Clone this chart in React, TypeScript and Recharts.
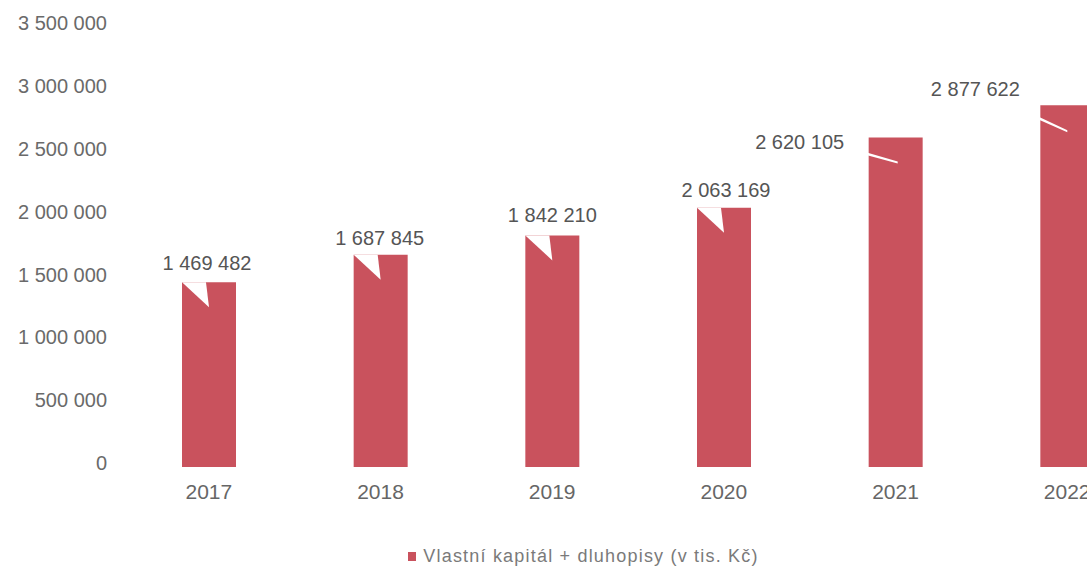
import React from 'react';
import { BarChart, Bar, XAxis, YAxis, Legend, LabelList } from 'recharts';

const years = ['2017', '2018', '2019', '2020', '2021', '2022'];
const capitalBonds = [1469482, 1687845, 1842210, 2063169, 2620105, 2877622];
const yTicks = [0, 500000, 1000000, 1500000, 2000000, 2500000, 3000000, 3500000];
const seriesName = 'Vlastní kapitál + dluhopisy (v tis. Kč)';

const data = years.map((year, i) => ({ year, value: capitalBonds[i] }));

const BAR_COLOR = '#c9525d';
const FONT = '"Liberation Sans", Arial, sans-serif';

const fmt = (v: number) => String(v).replace(/\B(?=(\d{3})+(?!\d))/g, ' ');

// text centre relative to bar's top-left corner; first four sit above the bar,
// the last two to the left with a thin pointer
const labelOffsets = [
  [25, -19],
  [26, -17],
  [27, -20],
  [29, -18],
  [-69, 4],
  [-65, -16],
];
const pointers: number[][][] = [
  [[0, 0], [24, 0], [27, 25]],
  [[0, 0], [24, 0], [27, 25]],
  [[0, 0], [24, 0], [27, 25]],
  [[0, 0], [24, 0], [27, 25]],
  [[-19, 10], [-19, 13], [29, 26], [29, 24]],
  [[-7, 9], [-7, 12], [27, 27], [27, 25]],
];

function CalloutLabel(props: any) {
  const vb = props.viewBox || {};
  const x = props.x ?? vb.x;
  const y = props.y ?? vb.y;
  const index = props.index ?? 0;
  const [dx, dy] = labelOffsets[index] || [25, -18];
  const cx = x + dx;
  const cy = y + dy;
  const pts = (pointers[index] || [])
    .map(([px, py]) => `${x + px},${y + py}`)
    .join(' ');
  return (
    <g>
      <rect x={cx - 50} y={cy - 14} width={100} height={28} fill="#fff" />
      <polygon points={pts} fill="#fff" />
      <text
        x={cx}
        y={cy}
        textAnchor="middle"
        dominantBaseline="central"
        fontSize={20}
        fontFamily={FONT}
        fill="#555"
      >
        {fmt(props.value)}
      </text>
    </g>
  );
}

function LegendContent() {
  return (
    <div
      style={{
        display: 'flex',
        justifyContent: 'center',
        alignItems: 'center',
        fontFamily: FONT,
        fontSize: 18,
        letterSpacing: 1.2,
        color: '#7a7a7a',
        paddingLeft: 6,
        marginTop: -4,
      }}
    >
      <span
        style={{
          display: 'inline-block',
          width: 8,
          height: 9,
          background: BAR_COLOR,
          marginRight: 7,
        }}
      />
      <span>{seriesName}</span>
    </div>
  );
}

export default function App() {
  return (
    <div
      style={{
        width: 1087,
        height: 569,
        boxSizing: 'border-box',
        padding: '8px 0 0 8px',
        overflow: 'hidden',
        background: '#fff',
      }}
    >
      <style>{'body{margin:0;overflow:hidden}'}</style>
      <BarChart
        width={1152}
        height={561}
        data={data}
        margin={{ top: 19, right: 7, left: 0, bottom: 2 }}
      >
        <XAxis
          dataKey="year"
          axisLine={false}
          tickLine={false}
          tickMargin={11}
          height={83}
          tick={{ fill: '#666', fontSize: 21, fontFamily: FONT }}
        />
        <YAxis
          width={115}
          domain={[0, 3500000]}
          ticks={yTicks}
          tickFormatter={fmt}
          axisLine={false}
          tickLine={false}
          tickMargin={10}
          tick={{ fill: '#6a6a6a', fontSize: 20, fontFamily: FONT, dy: -4 }}
        />
        <Legend verticalAlign="bottom" content={<LegendContent />} />
        <Bar
          dataKey="value"
          name={seriesName}
          fill={BAR_COLOR}
          barSize={54}
          isAnimationActive={false}
        >
          <LabelList dataKey="value" content={<CalloutLabel />} />
        </Bar>
      </BarChart>
    </div>
  );
}
